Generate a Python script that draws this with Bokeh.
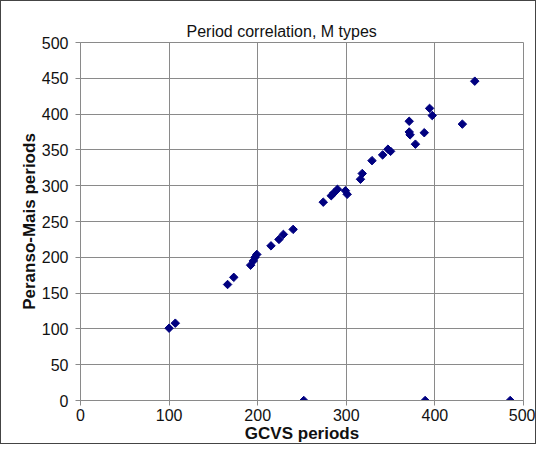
import math
from bokeh.plotting import figure
from bokeh.models import ColumnDataSource, FixedTicker, Range1d
from bokeh.embed import file_html
from bokeh.resources import INLINE

# GCVS periods (x) and Peranso-Mais periods (y)
gcvs_periods = [100, 107, 166, 173, 192, 195, 197, 199, 215, 224, 229, 240,
                274, 283, 286, 290, 299, 301, 316, 318, 329, 341, 347, 350,
                371, 371, 372, 378, 388, 394, 397, 431, 445, 252, 389, 485]
peranso_periods = [101, 108, 162, 172, 189, 195, 200, 204, 216, 225, 232, 239,
                   277, 286, 290, 295, 293, 288, 309, 317, 335, 343, 351, 348,
                   390, 375, 371, 358, 374, 408, 398, 386, 446, 0, 0, 0]

x_ticks = [0, 100, 200, 300, 400, 500]
y_ticks = [0, 50, 100, 150, 200, 250, 300, 350, 400, 450, 500]

title_text = "Period correlation, M types"
x_label = "GCVS periods"
y_label = "Peranso-Mais periods"

FONT = "Liberation Sans"
GRID = "#8a8a8a"

src = ColumnDataSource(data=dict(x=gcvs_periods, y=peranso_periods))

p = figure(width=536, height=444, output_backend="svg", toolbar_location=None,
           x_range=Range1d(0, 500), y_range=Range1d(0, 500),
           min_border_left=79, min_border_right=14, min_border_top=41,
           min_border_bottom=43, title=title_text)

p.styles = {"border": "1px solid #444444"}

p.title.text_font = FONT
p.title.text_font_size = "16px"
p.title.text_font_style = "normal"
p.title.align = "left"
p.title.offset = 106
p.title.text_color = "#111111"
p.title.standoff = 6

p.scatter("x", "y", source=src, marker="square", angle=math.pi / 4, size=6,
          fill_color="#000080", line_color="#000080")

for ax in (p.xaxis[0], p.yaxis[0]):
    ax.major_label_text_font = FONT
    ax.major_label_text_font_size = "16px"
    ax.major_label_text_color = "#111111"
    ax.axis_label_text_font = FONT
    ax.axis_label_text_font_size = "17px"
    ax.axis_label_text_font_style = "bold"
    ax.axis_label_text_color = "#111111"
    ax.axis_line_color = GRID
    ax.major_tick_line_color = GRID
    ax.major_tick_out = 5
    ax.major_tick_in = 0
    ax.minor_tick_line_color = None

p.xaxis.ticker = FixedTicker(ticks=x_ticks)
p.yaxis.ticker = FixedTicker(ticks=y_ticks)
p.xaxis.axis_label = x_label
p.yaxis.axis_label = y_label
p.xaxis.major_label_standoff = 3
p.yaxis.major_label_standoff = 7
p.xaxis.axis_label_standoff = 0
p.yaxis.axis_label_standoff = 0

p.xgrid.ticker = FixedTicker(ticks=x_ticks)
p.ygrid.ticker = FixedTicker(ticks=y_ticks)
p.grid.grid_line_color = GRID
p.grid.grid_line_width = 1
p.outline_line_color = GRID
p.outline_line_width = 1
p.background_fill_color = "white"
p.border_fill_color = "white"

open("out.html", "w").write(file_html(p, INLINE))
